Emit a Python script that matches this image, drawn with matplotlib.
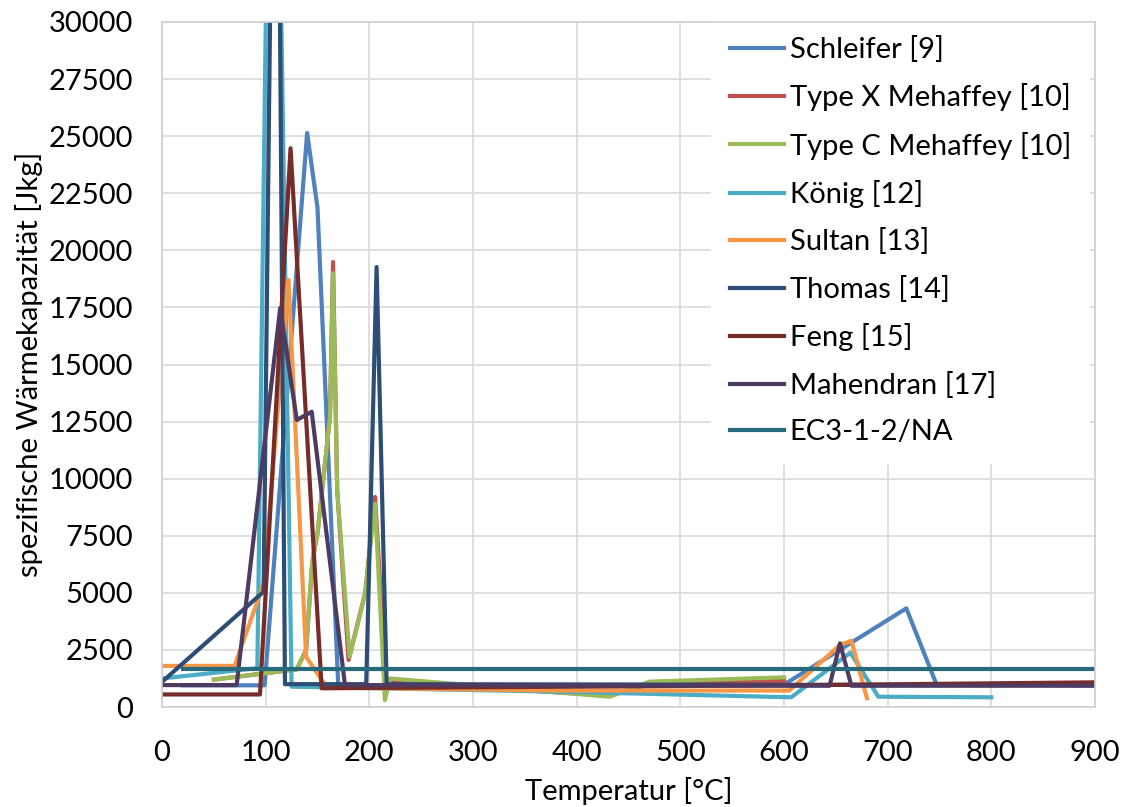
import matplotlib
matplotlib.use("Agg")
import matplotlib.pyplot as plt

plt.rcParams['font.family'] = ['Lato', 'DejaVu Sans']

# Temperatur [°C] und spezifische Waermekapazitaet je Quelle
t_schleifer = [20, 99, 140, 150, 170, 600, 718, 747, 900]
c_schleifer = [950, 950, 25140, 21860, 950, 980, 4320, 1000, 950]

t_typex = [50, 130, 139, 145, 150, 162, 165, 169, 180, 196, 205.5, 216, 432, 470, 600]
c_typex = [1200, 1650, 2500, 6400, 7600, 12700, 19490, 9500, 2060, 5000, 9200, 1100, 500, 1000, 1150]

t_typec = [50, 130, 139, 145, 150, 162, 165, 169, 181, 196, 205.5, 215, 220, 432, 470, 600]
c_typec = [1200, 1650, 2500, 6400, 7600, 12700, 19000, 9500, 2200, 4980, 8900, 300, 1250, 450, 1110, 1300]

t_koenig = [0, 92, 107, 125, 384, 607, 664, 691, 800]
c_koenig = [1250, 1700, 54000, 890, 670, 425, 2380, 450, 425]

t_sultan = [0, 70, 98, 122, 139, 154, 160, 384, 605, 654, 665, 680]
c_sultan = [1800, 1800, 5400, 18700, 2200, 1180, 850, 720, 720, 2715, 2900, 380]

t_thomas = [0, 98, 110, 118.6, 197, 207, 216.7, 900]
c_thomas = [1100, 5050, 53300, 1000, 1000, 19270, 1000, 950]

t_feng = [0, 94.5, 124, 154, 600, 900]
c_feng = [550, 550, 24470, 820, 950, 1080]

t_mahendran = [0, 72, 114, 130, 144.4, 176.5, 644, 654, 665, 900]
c_mahendran = [960, 960, 17470, 12570, 12930, 960, 930, 2790, 930, 935]

t_ec3 = [20, 900]
c_ec3 = [1680, 1680]

series = [
    ('Schleifer [9]', t_schleifer, c_schleifer, '#4F81BD'),
    ('Type X Mehaffey [10]', t_typex, c_typex, '#C0504D'),
    ('Type C Mehaffey [10]', t_typec, c_typec, '#9BBB59'),
    ('König [12]', t_koenig, c_koenig, '#4BACC6'),
    ('Sultan [13]', t_sultan, c_sultan, '#F79646'),
    ('Thomas [14]', t_thomas, c_thomas, '#2C4D75'),
    ('Feng [15]', t_feng, c_feng, '#772C2A'),
    ('Mahendran [17]', t_mahendran, c_mahendran, '#4D3B62'),
    ('EC3-1-2/NA', t_ec3, c_ec3, '#276A7C'),
]

fig = plt.figure(figsize=(11.23, 8.07), dpi=100)
ax = fig.add_axes([162 / 1123, 1 - 707 / 807, 933 / 1123, 685 / 807])

for name, t, c, col in series:
    ax.plot(t, c, color=col, lw=3, label=name, solid_joinstyle='round')

ax.set_xlim(0, 900)
ax.set_ylim(0, 30000)
ax.set_xticks(range(0, 901, 100))
ax.set_yticks(range(0, 30001, 2500))
ax.grid(True, color='#D9D9D9', lw=1.2)
ax.set_axisbelow(True)
for s in ax.spines.values():
    s.set_color('#D0D0D0')
    s.set_linewidth(1.2)
ax.tick_params(length=0, labelsize=21)
ax.tick_params(axis='x', pad=24)
ax.tick_params(axis='y', pad=21)

ax.set_xlabel('Temperatur [°C]', fontsize=21, labelpad=8)
ax.set_ylabel('spezifische Wärmekapazität [Jkg]', fontsize=21, labelpad=4)

# Legende: weisser Kasten, rechts oben, ohne Rahmen
leg = ax.legend(loc='upper right', bbox_to_anchor=(0.9946, 1.0075), fontsize=21,
                frameon=True, facecolor='white', edgecolor='none', framealpha=1,
                fancybox=False, handlelength=1.85, handletextpad=0.2,
                labelspacing=0.7, borderpad=0.65, borderaxespad=0.0)
leg.set_zorder(2.4)
for h in leg.get_lines():
    h.set_linewidth(3)

fig.savefig('out.png', dpi=100)
